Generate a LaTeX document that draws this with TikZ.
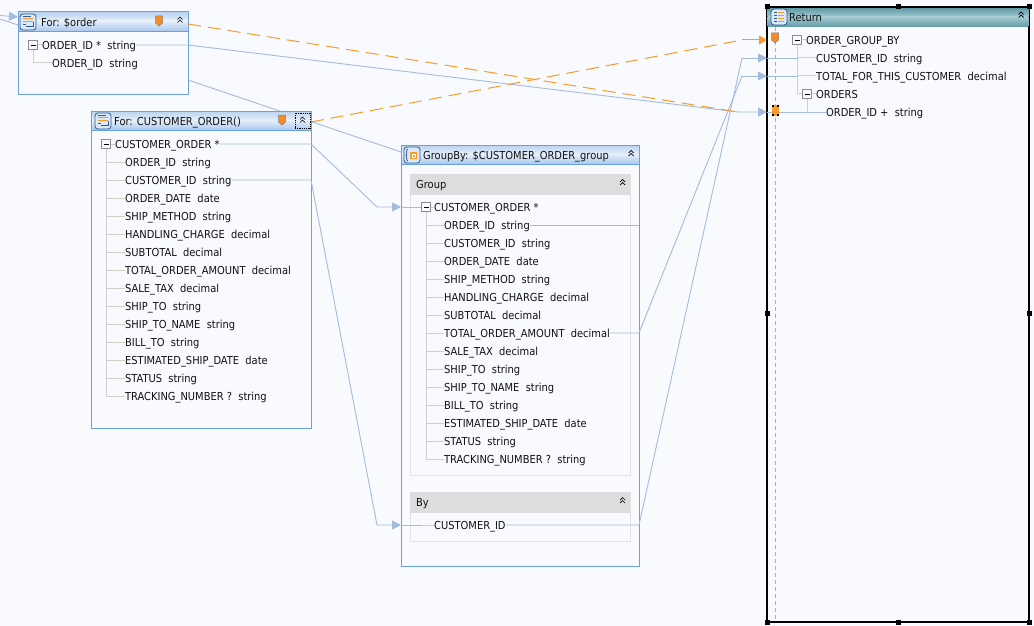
\documentclass[tikz,border=0pt]{standalone}
\usepackage{fontspec}
\setmainfont{DejaVu Sans Condensed}
\usetikzlibrary{arrows.meta,calc,shapes.geometric}
\definecolor{bgc}{HTML}{F8FAFD}
\definecolor{edgeblue}{HTML}{6A9FE2}
\definecolor{conn}{HTML}{A3BBDD}
\definecolor{treec}{HTML}{D2CEC9}
\definecolor{orangec}{HTML}{F99B28}
\definecolor{sect}{HTML}{DDDDDD}
\definecolor{ink}{HTML}{111111}
\definecolor{headA}{HTML}{BCD4F2}
\definecolor{headB}{HTML}{E6EFFA}
\definecolor{headC}{HTML}{A9C8EE}
\definecolor{tealA}{HTML}{5F98A4}
\definecolor{tealB}{HTML}{A3C9D0}
\definecolor{tealC}{HTML}{639CA8}
\definecolor{iconfill}{HTML}{DCE9F8}
\definecolor{iconedge}{HTML}{2F5A96}
\definecolor{railc}{HTML}{A4AED2}
\tikzset{
  box/.style={draw=edgeblue,line width=1pt,fill=bgc,anchor=north west,inner sep=0pt,outer sep=0pt},
  section/.style={draw=sect!85!white,line width=1pt,fill=bgc,anchor=north west,inner sep=0pt,outer sep=0pt},
  sectionhead/.style={fill=sect,anchor=north west,inner sep=0pt,outer sep=0pt},
  row/.style={anchor=west,inner sep=0pt,text height=10pt,text depth=1pt,text=ink,font=\fontsize{11}{12}\selectfont},
  minusbox/.style={draw=gray!90,line width=1pt,fill=bgc,minimum size=9pt,inner sep=0pt,
    path picture={\draw[black,line width=.9pt] ([xshift=2pt]path picture bounding box.west) -- ([xshift=-2pt]path picture bounding box.east);}},
  link/.style={draw=conn,line width=.9pt},
  treeline/.style={draw=treec,line width=1pt},
  orangelink/.style={draw=orangec,line width=1pt,dash pattern=on 13pt off 7pt},
  tipped/.style={-{Triangle[length=9pt,width=9pt,fill=conn]}},
  handle/.style={fill=black,minimum size=5pt,inner sep=0pt},
  pics/pin/.style={code={\fill[orangec!90!red,draw=#1,line width=.5pt] (-3.5,-5) -- (3.5,-5) -- (3.5,2) -- (0,5) -- (-3.5,2) -- cycle;}},
  pics/chev/.style={code={\draw[black,line width=.7pt] (-2.5,-.5) -- (0,-3) -- (2.5,-.5) (-2.5,2.5) -- (0,0) -- (2.5,2.5);}},
  pics/foricon/.style={code={
    \draw[draw=iconedge,fill=iconfill,rounded corners=3pt,line width=.8pt] (-8,-8) rectangle (8,8);
    \draw[orangec,line width=1.1pt] (-5,-3.5) -- (5,-3.5) (-5,-.5) -- (5,-.5);
    \draw[iconedge,line width=.9pt] (-5,-6) -- (3,-6) (-5,2.5) -- (-2,2.5) (-2,4) -- (5,4) -- (5,0);}},
  pics/groupicon/.style={code={
    \draw[draw=iconedge,fill=iconfill,rounded corners=3pt,line width=.8pt] (-8,-8) rectangle (8,8);
    \draw[iconedge,line width=.8pt] (-4,-6) .. controls (-7,-5) and (-4,-1) .. (-6,0) .. controls (-4,1) and (-7,5) .. (-4,6);
    \fill[orangec] (-2,-3) rectangle (5,4);
    \fill[white] (0,-1) rectangle (4,3);
    \fill[orangec] (1,0) rectangle (3,2);}},
  pics/returnicon/.style={code={
    \draw[draw=iconedge,fill=iconfill,rounded corners=3pt,line width=.8pt] (-8,-8) rectangle (8,8);
    \foreach \v in {-4.5,-1.5,1.5,4.5}{\draw[orangec,line width=1.2pt] (-1.5,\v) -- (5,\v);\draw[iconedge,line width=1.2pt] (-5,\v) -- (-2.5,\v);}}},
}
\begin{document}
\begin{tikzpicture}[x=1pt,y=-1pt]
\useasboundingbox (0,0) rectangle (1034,626);
\fill[bgc] (0,0) rectangle (1034,626);

% free coordinates
\coordinate (inA) at (0,15.5);
\coordinate (inAtip) at (18,17);
\coordinate (inB) at (0,19);
\coordinate (inBend) at (18,25);
\coordinate (aLow) at (188,80);
\coordinate (gTop) at (401,152);

% connector that runs behind the second For box
\draw[link,tipped] (inA) -- (inAtip);
\draw[link] (inB) -- (inBend);
\draw[link] (aLow) -- (gTop);

% For: $order
\node[box,minimum width=170pt,minimum height=83pt] (forA) at (18,12) {};
\shade[top color=headA,bottom color=headB] (18.5,12.5) rectangle (187.5,21);
\shade[top color=headB,bottom color=headC] (18.5,21) rectangle (187.5,31);
\draw[edgeblue,line width=1.5pt] (18,31.5) -- (188,31.5);
\draw[edgeblue,line width=1pt] (18,12) rectangle (188,95);
\pic at (28,22) {foricon};
\node[row] (forAtitle) at (41,22) {For: \$order};
\pic at (159,21) {pin=gray};
\pic at (180,20) {chev};
\node[minusbox] (mA) at (33,45) {};
\node[row] (aId) at (42,45) {ORDER\_ID *\ \ string};
\node[row] (aSub) at (52,63) {ORDER\_ID\ \ string};
\draw[treeline] (mA.east) -- (aId.west);
\draw[treeline] (mA.south) |- (aSub.west);

% For: CUSTOMER_ORDER()
\node[box,minimum width=220pt,minimum height=317pt] (forB) at (91,111) {};
\shade[top color=headA,bottom color=headB] (91.5,111.5) rectangle (310.5,120);
\shade[top color=headB,bottom color=headC] (91.5,120) rectangle (310.5,130);
\draw[edgeblue,line width=1.5pt] (91,130.5) -- (311,130.5);
\draw[edgeblue,line width=1pt] (91,111) rectangle (311,428);
\pic at (103,121) {foricon};
\node[row] (forBtitle) at (114,121) {For: CUSTOMER\_ORDER()};
\pic at (282,120) {pin=gray};
\pic at (302.5,120) {chev};
\node[draw=black,line width=.8pt,densely dotted,minimum width=15pt,minimum height=15pt,inner sep=0pt] (forBtoggle) at (302.5,120.5) {};
\node[minusbox] (mB) at (106,144) {};
\node[row] (bHead) at (115,144) {CUSTOMER\_ORDER *};
\draw[treeline] (mB.east) -- (bHead.west);
\foreach \n/\yy/\t in {
  1/162/{ORDER\_ID\ \ string},
  2/180/{CUSTOMER\_ID\ \ string},
  3/198/{ORDER\_DATE\ \ date},
  4/216/{SHIP\_METHOD\ \ string},
  5/234/{HANDLING\_CHARGE\ \ decimal},
  6/252/{SUBTOTAL\ \ decimal},
  7/270/{TOTAL\_ORDER\_AMOUNT\ \ decimal},
  8/288/{SALE\_TAX\ \ decimal},
  9/306/{SHIP\_TO\ \ string},
  10/324/{SHIP\_TO\_NAME\ \ string},
  11/342/{BILL\_TO\ \ string},
  12/360/{ESTIMATED\_SHIP\_DATE\ \ date},
  13/378/{STATUS\ \ string},
  14/396/{TRACKING\_NUMBER ?\ \ string}}{
  \node[row] (b\n) at (125,\yy) {\t};
  \draw[treeline] (mB.south |- b\n.west) -- (b\n.west);
}
\draw[treeline] (mB.south) -- (mB.south |- b14.west);

% GroupBy
\node[box,minimum width=238pt,minimum height=421pt] (grp) at (401,145) {};
\shade[top color=headA,bottom color=headB] (401.5,145.5) rectangle (638.5,154);
\shade[top color=headB,bottom color=headC] (401.5,154) rectangle (638.5,164);
\draw[edgeblue,line width=1.5pt] (401,164.5) -- (639,164.5);
\draw[edgeblue,line width=1pt] (401,145) rectangle (639,566);
\pic at (412,155) {groupicon};
\node[row] (grpTitle) at (423,155) {GroupBy: \$CUSTOMER\_ORDER\_group};
\pic at (631,153.5) {chev};

\node[section,minimum width=220pt,minimum height=301pt] (secG) at (410,174) {};
\node[sectionhead,minimum width=220pt,minimum height=21pt] (secGh) at (410,174) {};
\node[row] (secGt) at (416,184) {Group};
\pic at (622.5,182.5) {chev};
\node[minusbox] (mG) at (426,207) {};
\node[row] (gHead) at (434,207) {CUSTOMER\_ORDER *};
\draw[treeline] (mG.east) -- (gHead.west);
\foreach \n/\yy/\t in {
  1/225/{ORDER\_ID\ \ string},
  2/243/{CUSTOMER\_ID\ \ string},
  3/261/{ORDER\_DATE\ \ date},
  4/279/{SHIP\_METHOD\ \ string},
  5/297/{HANDLING\_CHARGE\ \ decimal},
  6/315/{SUBTOTAL\ \ decimal},
  7/333/{TOTAL\_ORDER\_AMOUNT\ \ decimal},
  8/351/{SALE\_TAX\ \ decimal},
  9/369/{SHIP\_TO\ \ string},
  10/387/{SHIP\_TO\_NAME\ \ string},
  11/405/{BILL\_TO\ \ string},
  12/423/{ESTIMATED\_SHIP\_DATE\ \ date},
  13/441/{STATUS\ \ string},
  14/459/{TRACKING\_NUMBER ?\ \ string}}{
  \node[row] (g\n) at (444,\yy) {\t};
  \draw[treeline] (mG.south |- g\n.west) -- (g\n.west);
}
\draw[treeline] (mG.south) -- (mG.south |- g14.west);

\node[section,minimum width=220pt,minimum height=49pt] (secB) at (410,492) {};
\node[sectionhead,minimum width=220pt,minimum height=21pt] (secBh) at (410,492) {};
\node[row] (secBt) at (416,502) {By};
\pic at (622.5,500.5) {chev};
\node[row] (byId) at (434,525) {CUSTOMER\_ID};
\coordinate (byTree) at (422,525);
\draw[treeline] (byTree) -- (byId.west);

% Return
\node[draw=black,line width=1.4pt,fill=bgc,anchor=north west,inner sep=0pt,outer sep=0pt,minimum width=262pt,minimum height=615pt] (ret) at (767,7) {};
\shade[top color=tealA,bottom color=tealB] (767.7,7.7) rectangle (1028.3,17);
\shade[top color=tealB,bottom color=tealC] (767.7,17) rectangle (1028.3,26.5);
\draw[black,line width=1.4pt] (767,7) -- (1029,7);
\pic at (779,17) {returnicon};
\node[row] (retTitle) at (789,17) {Return};
\pic at (1021,15) {chev};
\coordinate (railTop) at (775,27);
\coordinate (railEnd) at (775,622);
\draw[draw=railc,line width=.9pt,dash pattern=on 4pt off 3pt] (railTop) -- (railEnd);
\node[minusbox] (mR) at (797,40) {};
\node[row] (rHead) at (806,40) {ORDER\_GROUP\_BY};
\node[row] (r1) at (816,58) {CUSTOMER\_ID\ \ string};
\node[row] (r2) at (816,76) {TOTAL\_FOR\_THIS\_CUSTOMER\ \ decimal};
\node[minusbox] (mO) at (807,94) {};
\node[row] (rOrders) at (816,94) {ORDERS};
\node[row] (r3) at (826,112) {ORDER\_ID +\ \ string};
\draw[treeline] (mR.east) -- (rHead.west);
\draw[treeline] (mR.south) -- (mR.south |- r1.west);
\draw[treeline] (mR.south |- r1.west) -- (r1.west);
\draw[treeline] (mR.south |- r2.west) -- (r2.west);
\draw[treeline] (mR.south) |- (mO.west);
\draw[treeline] (mO.east) -- (rOrders.west);
\draw[treeline] (mO.south) -- (mO.south |- r3.west);
\draw[treeline] (mO.south |- r3.west) -- (r3.west);

% connector waypoints
\coordinate (kOrder) at (738,112);
\coordinate (tipOrder) at (767,112);
\coordinate (kA1) at (188,45);
\coordinate (kTop) at (742,40);
\coordinate (tipTop) at (767,40);
\coordinate (sOrangeA) at (188,24);
\coordinate (sOrangeB) at (311,122);
\coordinate (kC1) at (311,144);
\coordinate (kC2) at (377,207);
\coordinate (tipG) at (401,207);
\coordinate (kD1) at (311,180);
\coordinate (kD2) at (377,525);
\coordinate (tipB) at (401,525);
\coordinate (kE) at (639,225);
\coordinate (kF1) at (639,333);
\coordinate (kF2) at (742,76);
\coordinate (tipF) at (767,76);
\coordinate (kH1) at (639,525);
\coordinate (kH2) at (742,58);
\coordinate (tipH) at (767,58);

% connectors
\draw[link,tipped] (aId.east) -- (kA1) -- (kOrder) -- (tipOrder);
\draw[link] (tipOrder) -- (r3.west);
\draw[link,tipped] (bHead.east) -- (kC1) -- (kC2) -- (tipG);
\draw[link] (tipG) -- (mG.west);
\draw[link,tipped] (b2.east) -- (kD1) -- (kD2) -- (tipB);
\draw[link] (tipB) -- (byTree);
\draw[link] (g1.east) -- (kE);
\draw[link] (g7.east) -- (kF1) -- (kF2);
\draw[link,tipped] (kF2) -- (tipF);
\draw[link] (tipF) -- ($(r2.west)+(-18,0)$);
\draw[link] (byId.east) -- (kH1) -- (kH2);
\draw[link,tipped] (kH2) -- (tipH);
\draw[link] (tipH) -- ($(r1.west)+(-18,0)$);
\draw[orangelink] (sOrangeA) -- (kOrder);
\draw[orangelink] (sOrangeB) -- (kTop);
\draw[draw=orangec,line width=1pt,-{Triangle[length=8pt,width=9pt,fill=orangec]}] (kTop) -- (tipTop);

% markers on the return rail
\pic at (775,38) {pin=gray};
\node[fill=black,minimum width=7pt,minimum height=11pt,inner sep=0pt] (mark) at (775,110.5) {};
\fill[orangec] (771.5,107) rectangle (778.5,114);
\fill[orangec] (773.5,105) rectangle (776.5,116);

% selection handles
\foreach \a/\b/\n in {767/7/1,898/7/2,1029/7/3,767/313/4,1029/313/5,767/622/6,898/622/7,1029/622/8}{
  \node[handle] (h\n) at (\a,\b) {};
}
\end{tikzpicture}
\end{document}
